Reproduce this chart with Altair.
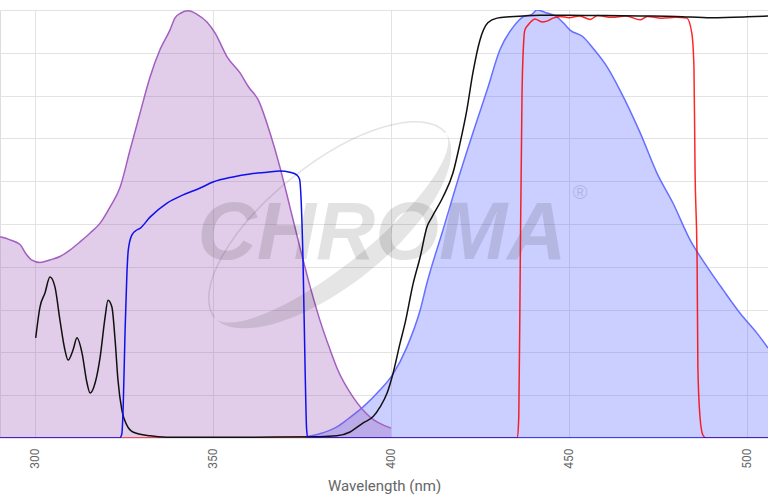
import altair as alt
import pandas as pd

# Absorption spectrum (purple, filled)
abs_nm = [290.2, 293, 295.8, 297.5, 299, 301.4, 304.2, 307, 309.8, 312.6, 315.5, 318.3, 321.1,
          323.9, 326.7, 329.5, 332.3, 335.1, 337.9, 339.3, 341, 343, 345.5, 348.3, 350.6, 354,
          357.6, 360, 362.7, 366, 368.8, 371.6, 374.4, 377.3, 380, 382.9, 385, 389.3, 394.1, 400]
abs_val = [47.0, 46.3, 45.2, 43.0, 41.6, 41.0, 41.6, 42.4, 43.9, 45.8, 47.9, 50.2, 54.0,
           58.6, 67.3, 75.9, 84.3, 90.7, 95.3, 98.1, 99.3, 99.8, 99.0, 97.2, 94.6, 89.0,
           85.3, 82.0, 79.0, 71.3, 63.3, 54.0, 44.6, 35.3, 27.6, 20.6, 16.0, 9.6, 4.9, 2.3]

# Emission spectrum (blue, filled)
em_nm = [376, 380, 384.8, 388, 392.1, 396.9, 400.6, 404.5, 408.2, 410.1, 414.6, 419.4, 424.2,
         427, 430.6, 434.3, 437.1, 439.6, 441, 443.8, 446.6, 448.4, 450.3, 454, 456.8, 460.7,
         464.3, 470, 474.7, 479.2, 484, 488.8, 493.3, 498, 502.8, 505.9]
em_val = [0.3, 1.0, 2.6, 4.5, 7.2, 11.2, 15.0, 21.3, 29.9, 36.2, 48.6, 61.9, 74.3,
          81.3, 90.7, 96.0, 98.4, 99.0, 100.0, 99.3, 98.4, 97.0, 95.3, 93.7, 91.0, 86.7,
          81.3, 71.3, 61.9, 54.9, 46.3, 40.0, 34.6, 29.2, 24.5, 21.0]

# Excitation filter (blue line)
ex_nm = [290.2, 323.8, 324.4, 324.8, 325.3, 325.8, 326.2, 327.2, 328.6, 329.5, 332.3, 337.1,
         341.6, 346.4, 350, 355.6, 360.4, 365.2, 368.8, 371.6, 373.5, 374.3, 375.3, 375.9,
         376.3, 376.7, 505.9]
ex_val = [0, 0, 1.0, 8.0, 25.0, 38.0, 43.9, 47.4, 48.6, 49.0, 51.6, 54.9,
          56.8, 58.4, 59.8, 61.0, 61.7, 62.1, 62.4, 62.1, 61.5, 60.5, 41.0, 15.0,
          2.0, 0, 0]

# Dichroic (black line)
dc_nm = [300.2, 301.4, 302.8, 304.2, 305.6, 307, 308.4, 309.3, 310.7, 311.8, 313.2, 314.6,
         315.5, 316.9, 318.3, 319.7, 320.5, 321.6, 322.5, 323.3, 324.4, 325.8, 327.5, 332.3,
         337, 360, 380, 384.8, 388.5, 392.1, 395, 396.9, 398.9, 400.6, 402.5, 404, 406.2,
         408.2, 410.1, 411.5, 414.6, 417.4, 419.4, 421.3, 423, 425, 427.2, 429.8, 433.4,
         441.8, 450, 460, 470, 480, 490, 500, 505.9]
dc_val = [23.4, 30.6, 33.9, 37.6, 35.3, 27.6, 20.6, 18.2, 20.6, 23.4, 19.9, 12.9,
          10.5, 12.9, 18.9, 28.3, 32.2, 30.6, 22.9, 13.6, 6.5, 3.0, 1.4, 0.5,
          0.2, 0.2, 0.3, 0.5, 1.4, 3.5, 5.0, 7.2, 10.5, 15.2, 22.0, 27.0, 36.0,
          42.3, 49.3, 51.6, 56.3, 61.9, 68.9, 76.6, 85.3, 93.0, 97.0, 98.1, 98.4,
          98.8, 98.8, 98.7, 98.6, 98.5, 98.2, 98.4, 98.6]

# Emission filter (red line)
ef_nm = [290.2, 435.5, 435.9, 436.3, 436.8, 437.3, 437.6, 438.5, 439.9, 440.4, 442.4, 443.8,
         445.5, 447.5, 450, 453, 456, 458, 462, 466, 470, 472, 476, 480, 483.1, 484.5,
         485.1, 485.4, 486, 486.2, 486.8, 487.6, 488.5, 505.9]
ef_val = [0, 0, 5.0, 40.0, 80.0, 93.0, 95.3, 96.5, 97.7, 97.9, 97.2, 97.4,
          98.1, 98.5, 98.2, 98.6, 97.8, 98.7, 98.3, 98.6, 97.7, 98.5, 98.1, 98.3, 98.1, 94.6,
          86.7, 63.3, 40.0, 16.6, 4.9, 0.7, 0, 0]

x_ticks = [300, 350, 400, 450, 500]
y_ticks = list(range(0, 101, 10))

def df(xs, ys):
    return pd.DataFrame({"nm": xs, "v": ys})

xs = alt.Scale(domain=[290.17, 505.9], nice=False, zero=False)
ys = alt.Scale(domain=[0, 100], nice=False, zero=True)

X = alt.X("nm:Q", scale=xs, title="Wavelength (nm)",
          axis=alt.Axis(values=x_ticks, labelAngle=-90, grid=True, ticks=False, domain=False))
Y = alt.Y("v:Q", scale=ys, title=None,
          axis=alt.Axis(values=y_ticks, labels=False, ticks=False, domain=False, grid=True))

em_area = alt.Chart(df(em_nm, em_val)).mark_area(
    color="#5060ff", fillOpacity=0.3, line={"color": "#6670ff", "strokeWidth": 1.5},
    interpolate="monotone", clip=True).encode(x=X, y=Y)

abs_area = alt.Chart(df(abs_nm, abs_val)).mark_area(
    color="#9b59b6", fillOpacity=0.3, line={"color": "#a35fc0", "strokeWidth": 1.5},
    interpolate="monotone", clip=True).encode(x=X, y=Y)

# Watermark logo (decoration)
one = pd.DataFrame({"t": ["CHROMA"]})
swoosh_fill = alt.Chart(one).mark_point(
    shape="M -0.771 0.616 A 0.987 0.41 -38.6 0 0 0.771 -0.616 A 0.987 0.28 -38.6 0 1 -0.771 0.616 Z",
    filled=True, color="#000000", opacity=0.1, strokeWidth=0).encode(
    x=alt.value(330), y=alt.value(215), size=alt.value(90000))
swoosh_line = alt.Chart(one).mark_point(
    shape="M -0.771 0.616 A 0.987 0.41 -38.6 0 1 0.771 -0.616",
    filled=False, color="#000000", opacity=0.1, strokeWidth=1.5).encode(
    x=alt.value(330), y=alt.value(215), size=alt.value(90000))
mark_wm = alt.Chart(one).mark_text(
    font="Liberation Sans", fontSize=82, fontWeight="bold", fontStyle="italic",
    color="#000000", opacity=0.11, align="center", baseline="alphabetic").encode(
    x=alt.value(382), y=alt.value(249), text="t:N")
mark_r = alt.Chart(pd.DataFrame({"t": ["®"]})).mark_text(
    font="Liberation Sans", fontSize=20, color="#000000", opacity=0.12,
    align="center", baseline="middle").encode(x=alt.value(580), y=alt.value(183), text="t:N")

ef_line = alt.Chart(df(ef_nm, ef_val)).mark_line(
    color="#ff0000", strokeWidth=1.5, opacity=0.85, interpolate="monotone", clip=True
).encode(x=X, y=Y)
dc_line = alt.Chart(df(dc_nm, dc_val)).mark_line(
    color="#111111", strokeWidth=1.5, interpolate="monotone", clip=True
).encode(x=X, y=Y)
ex_line = alt.Chart(df(ex_nm, ex_val)).mark_line(
    color="#1010ee", strokeWidth=1.5, interpolate="monotone", clip=True
).encode(x=X, y=Y)

chart = alt.layer(em_area, abs_area, swoosh_fill, swoosh_line, mark_wm, mark_r,
                  ef_line, dc_line, ex_line).properties(
    width=768, height=428,
    autosize=alt.AutoSizeParams(type="none"),
    padding={"left": 0, "top": 10, "right": 0, "bottom": 62},
).configure_view(stroke=None).configure(background="white").configure_axis(
    gridColor="#e3e3e3", labelColor="#666666", labelFontSize=12, labelPadding=10,
    labelFont="Roboto", titleColor="#666666", titleFontSize=15, titleFont="Roboto",
    titleFontWeight="normal", titlePadding=10)

chart.save("out.html", embed_options={"renderer": "svg", "actions": False})
